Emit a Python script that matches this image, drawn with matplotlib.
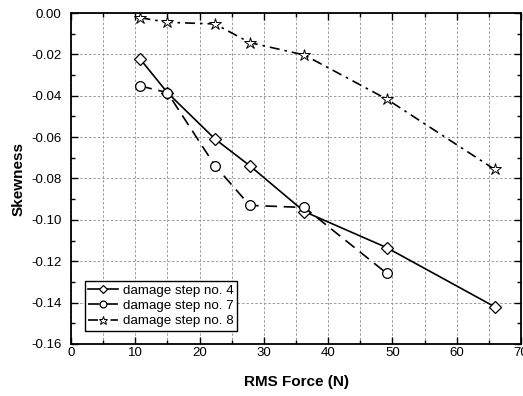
import matplotlib
matplotlib.use("Agg")
import matplotlib.pyplot as plt
from matplotlib.ticker import MultipleLocator

plt.rcParams['font.family'] = ['Liberation Sans', 'DejaVu Sans']

x4 = [10.8, 15.0, 22.4, 27.8, 36.3, 49.1, 65.9]
y4 = [-0.0224, -0.0385, -0.0609, -0.0738, -0.0960, -0.1134, -0.1420]
x7 = [10.8, 15.0, 22.4, 27.8, 36.3, 49.1]
y7 = [-0.0353, -0.0385, -0.0738, -0.0930, -0.0940, -0.1258]
x8 = [10.8, 15.0, 22.4, 27.8, 36.3, 49.1, 65.9]
y8 = [-0.0023, -0.0045, -0.0053, -0.0143, -0.0203, -0.0416, -0.0756]
labels = ["damage step no. 4", "damage step no. 7", "damage step no. 8"]

fig = plt.figure(figsize=(5.23, 3.96), dpi=100)
ax = fig.add_axes([71/523, 52/396, 450/523, 331/396])

ax.plot(x4, y4, color='black', lw=1.2, ls='-', marker='D', ms=6,
        mfc='white', mec='black', mew=0.9, label=labels[0])
ax.plot(x7, y7, color='black', lw=1.2, ls=(0, (7, 4)), marker='o', ms=7,
        mfc='white', mec='black', mew=0.9, label=labels[1])
ax.plot(x8, y8, color='black', lw=1.2, ls=(0, (6, 3, 1.5, 3)), marker='*', ms=9,
        mfc='white', mec='black', mew=0.7, label=labels[2])

ax.set_xlim(0, 70)
ax.set_ylim(-0.16, 0.0)
ax.xaxis.set_major_locator(MultipleLocator(10))
ax.xaxis.set_minor_locator(MultipleLocator(5))
ax.yaxis.set_major_locator(MultipleLocator(0.02))
ax.yaxis.set_minor_locator(MultipleLocator(0.01))
ax.yaxis.set_major_formatter(plt.FuncFormatter(lambda v, p: f"{v:.2f}" if abs(v) > 1e-9 else "0.00"))

ax.grid(True, which='major', axis='y', color='#9a9a9a', ls=(0, (2.5, 2)), lw=0.7)
ax.grid(True, which='both', axis='x', color='#9a9a9a', ls=(0, (2.5, 2)), lw=0.7)

ax.tick_params(which='both', direction='in', top=True, right=True, labelsize=9.5)
ax.tick_params(which='major', length=5, width=1)
ax.tick_params(which='minor', length=3, width=1)
ax.tick_params(axis='x', which='both', pad=2)
ax.tick_params(axis='y', which='both', pad=7)
for s in ax.spines.values():
    s.set_linewidth(1.3)

ax.set_xlabel("RMS Force (N)", fontsize=11, fontweight='bold', labelpad=12)
ax.set_ylabel("Skewness", fontsize=11, fontweight='bold', labelpad=4)

leg = ax.legend(loc='lower left', bbox_to_anchor=(0.031, 0.04), fontsize=9.6,
                frameon=True, fancybox=False, edgecolor='black', framealpha=1,
                handlelength=2.2, handletextpad=0.4, borderpad=0.25, labelspacing=0.22,
                markerscale=0.7, borderaxespad=0)
leg.get_frame().set_linewidth(1.0)

fig.savefig("out.png", dpi=100)
